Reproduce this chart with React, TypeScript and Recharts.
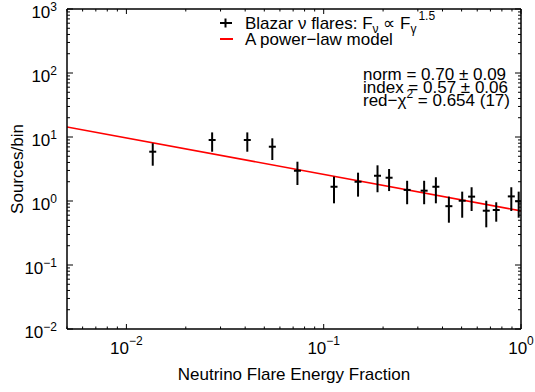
import React from 'react';
import { ComposedChart, XAxis, YAxis, Scatter, Line, ErrorBar } from 'recharts';

const FONT = '"Liberation Sans", Arial, Helvetica, sans-serif';

// Data
const fraction = [0.0136, 0.0272, 0.041, 0.0549, 0.0736, 0.1128, 0.1493, 0.1874, 0.2145, 0.2648, 0.3229, 0.3703, 0.431, 0.5035, 0.5619, 0.6668, 0.749, 0.893, 0.9734];
const sources = [5.89, 8.98, 8.98, 7.05, 2.97, 1.67, 2.0, 2.48, 2.31, 1.49, 1.45, 1.67, 0.83, 1.01, 1.17, 0.705, 0.723, 1.18, 0.99];
const upperBound = [7.98, 11.8, 11.8, 9.54, 4.11, 2.4, 2.77, 3.61, 3.16, 2.07, 2.07, 2.35, 1.17, 1.4, 1.64, 1.01, 0.955, 1.64, 1.4];
const lowerBound = [3.56, 5.89, 5.89, 4.37, 1.78, 0.92, 1.17, 1.37, 1.43, 0.89, 0.89, 0.92, 0.458, 0.548, 0.698, 0.388, 0.475, 0.698, 0.548];

// Power-law model parameters
const NORM = 0.7;
const INDEX = 0.57;
const modelX = [0.005, 1];

// Axis ranges / tick decades
const X_DOMAIN = [0.005, 1];
const Y_DOMAIN = [0.01, 1000];
const xDecades = [-2, -1, 0];
const yDecades = [-2, -1, 0, 1, 2, 3];

const points = fraction.map((x, i) => ({
  x,
  y: sources[i],
  err: [sources[i] - lowerBound[i], upperBound[i] - sources[i]],
}));
const modelData = modelX.map((x) => ({ x, y: NORM * Math.pow(x, -INDEX) }));

function logTicks(min: number, max: number) {
  const out: number[] = [];
  for (let d = Math.floor(Math.log10(min)); d <= Math.ceil(Math.log10(max)); d++) {
    for (let m = 1; m <= 9; m++) {
      const v = Number((m * Math.pow(10, d)).toPrecision(6));
      if (v >= min * 0.9999 && v <= max * 1.0001) out.push(v);
    }
  }
  return out;
}
const X_TICKS = logTicks(X_DOMAIN[0], X_DOMAIN[1]);
const Y_TICKS = logTicks(Y_DOMAIN[0], Y_DOMAIN[1]);

const isMajor = (v: number) => Math.abs(Math.log10(v) - Math.round(Math.log10(v))) < 1e-6;
const expOf = (v: number) => Math.round(Math.log10(v));
const expText = (e: number) => (e < 0 ? '\u2212' + Math.abs(e) : String(e));

function XTick(props: any) {
  const { x, y, payload, side } = props;
  const v = payload.value;
  const major = isMajor(v);
  const len = major ? 5 : 2.5;
  const dir = side === 'bottom' ? -1 : 1;
  const showLabel = side === 'bottom' && major && xDecades.includes(expOf(v));
  return (
    <g>
      <line x1={x} x2={x} y1={y} y2={y + dir * len} stroke="#000" strokeWidth={1} />
      {showLabel && (
        <text x={x} y={y + 25} textAnchor="middle" fontFamily={FONT} fontSize={17} fill="#000">
          10<tspan dy={-9} fontSize={12}>{expText(expOf(v))}</tspan>
        </text>
      )}
    </g>
  );
}

function YTick(props: any) {
  const { x, y, payload, side } = props;
  const v = payload.value;
  const major = isMajor(v);
  const len = major ? 6 : 3;
  const dir = side === 'left' ? 1 : -1;
  const showLabel = side === 'left' && major && yDecades.includes(expOf(v));
  return (
    <g>
      <line x1={x} x2={x + dir * len} y1={y} y2={y} stroke="#000" strokeWidth={1} />
      {showLabel && (
        <text x={x - 10} y={y + 9} textAnchor="end" fontFamily={FONT} fontSize={17} fill="#000">
          10<tspan dy={-7} fontSize={12}>{expText(expOf(v))}</tspan>
        </text>
      )}
    </g>
  );
}

function Cross(props: any) {
  const { cx, cy } = props;
  if (cx == null || cy == null) return null;
  return <line x1={cx - 3.5} x2={cx + 3.5} y1={cy} y2={cy} stroke="#000" strokeWidth={2} />;
}

export default function App() {
  const axisLine = { stroke: '#000', strokeWidth: 1.5 };
  return (
    <div style={{ position: 'absolute', left: 0, top: 0, width: 535, height: 392, background: '#fff' }}>
      <ComposedChart width={535} height={392} margin={{ top: 0, right: 0, bottom: 0, left: 0 }}>
        <XAxis
          xAxisId="b"
          dataKey="x"
          type="number"
          scale="log"
          domain={X_DOMAIN}
          allowDataOverflow
          orientation="bottom"
          height={63}
          ticks={X_TICKS}
          interval={0}
          tickSize={0}
          tickMargin={0}
          axisLine={axisLine}
          tick={<XTick side="bottom" />}
        />
        <XAxis
          xAxisId="t"
          dataKey="x"
          type="number"
          scale="log"
          domain={X_DOMAIN}
          allowDataOverflow
          orientation="top"
          height={9}
          ticks={X_TICKS}
          interval={0}
          tickSize={0}
          tickMargin={0}
          axisLine={axisLine}
          tick={<XTick side="top" />}
        />
        <YAxis
          yAxisId="l"
          dataKey="y"
          type="number"
          scale="log"
          domain={Y_DOMAIN}
          allowDataOverflow
          orientation="left"
          width={67}
          ticks={Y_TICKS}
          interval={0}
          tickSize={0}
          tickMargin={0}
          axisLine={axisLine}
          tick={<YTick side="left" />}
        />
        <YAxis
          yAxisId="r"
          dataKey="y"
          type="number"
          scale="log"
          domain={Y_DOMAIN}
          allowDataOverflow
          orientation="right"
          width={14}
          ticks={Y_TICKS}
          interval={0}
          tickSize={0}
          tickMargin={0}
          axisLine={axisLine}
          tick={<YTick side="right" />}
        />
        <Line
          data={modelData}
          dataKey="y"
          xAxisId="b"
          yAxisId="l"
          type="linear"
          stroke="#ff0000"
          strokeWidth={1.6}
          dot={false}
          activeDot={false}
          isAnimationActive={false}
        />
        <Scatter data={points} dataKey="y" xAxisId="b" yAxisId="l" shape={<Cross />} isAnimationActive={false}>
          <ErrorBar dataKey="err" direction="y" width={0} stroke="#000" strokeWidth={2} isAnimationActive={false} />
        </Scatter>
      </ComposedChart>
      <svg
        width={535}
        height={392}
        style={{ position: 'absolute', left: 0, top: 0, pointerEvents: 'none' }}
        fontFamily={FONT}
        fill="#000"
      >
        {/* axis titles */}
        <text x={294} y={380} textAnchor="middle" fontSize={17}>Neutrino Flare Energy Fraction</text>
        <text transform="translate(23,169) rotate(-90)" textAnchor="middle" fontSize={17}>Sources/bin</text>
        {/* legend */}
        <line x1={220} x2={232} y1={23} y2={23} stroke="#000" strokeWidth={2} />
        <line x1={225.5} x2={225.5} y1={18.5} y2={27.5} stroke="#000" strokeWidth={2} />
        <text x={245} y={29} fontSize={17}>
          Blazar ν flares: F<tspan dy={4} fontSize={12}>ν</tspan>
          <tspan dy={-4}> ∝ F</tspan>
          <tspan dy={4} fontSize={12}>γ</tspan>
          <tspan dy={-13} dx={2} fontSize={12}>1.5</tspan>
        </text>
        <line x1={220} x2={233} y1={39} y2={39} stroke="#ff0000" strokeWidth={2} />
        <text x={245} y={45} fontSize={17}>A power−law model</text>
        {/* fit annotation */}
        <text x={363} y={80} fontSize={17}>norm = 0.70 ± 0.09</text>
        <text x={363} y={93} fontSize={17}>index = 0.57 ± 0.06</text>
        <text x={363} y={106} fontSize={17}>
          red−χ<tspan dy={-8} fontSize={12}>2</tspan>
          <tspan dy={8}> = 0.654 (17)</tspan>
        </text>
      </svg>
    </div>
  );
}
